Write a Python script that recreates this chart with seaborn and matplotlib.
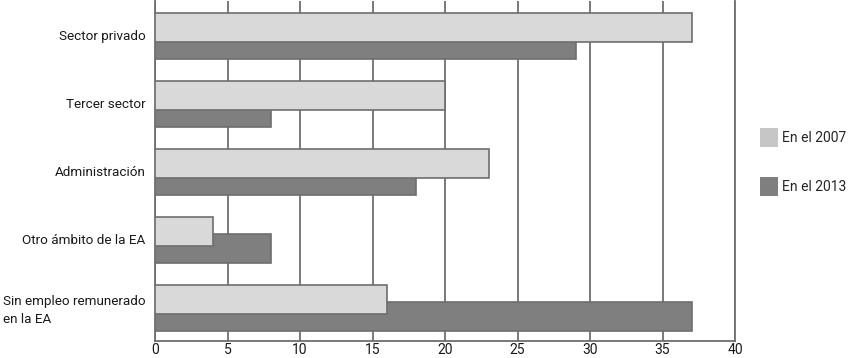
import numpy as np
import pandas as pd
import matplotlib
matplotlib.use("Agg")
import matplotlib.pyplot as plt
import seaborn as sns
from matplotlib.patches import Patch

# datos
categorias = ["Sector privado", "Tercer sector", "Administración",
              "Otro ámbito de la EA", "Sin empleo remunerado\nen la EA"]
valores_2007 = [37, 20, 23, 4, 16]
valores_2013 = [29, 8, 18, 8, 37]
series = ["En el 2007", "En el 2013"]
ticks_x = [0, 5, 10, 15, 20, 25, 30, 35, 40]

df = pd.DataFrame({
    "cat": categorias * 2,
    "valor": valores_2007 + valores_2013,
    "serie": [series[0]] * 5 + [series[1]] * 5,
})

sns.set_style("white")
plt.rcParams["font.family"] = ["Roboto", "DejaVu Sans"]

colores = {"En el 2007": "#d9d9d9", "En el 2013": "#7f7f7f"}
gris = "#6e6e6e"

fig = plt.figure(figsize=(8.5, 3.58), dpi=100)
ax = fig.add_axes([155 / 850, 1 - 341 / 358, 580 / 850, 340 / 358])

sns.barplot(data=df, y="cat", x="valor", hue="serie", palette=colores,
            orient="h", dodge=True, edgecolor=gris, linewidth=1.2,
            ax=ax, legend=False)

# barras superpuestas: la de 2007 encima y un poco más arriba
alto = 0.425
desplaz = {0: -0.112, 1: 0.142}
n = len(categorias)
for i, p in enumerate(ax.patches[:2 * n]):
    s = i // n
    k = i % n
    p.set_height(alto)
    p.set_y(k + desplaz[s] - alto / 2)
    p.set_zorder(4 if s == 0 else 3)

ax.set_xlim(0, 40)
ax.set_ylim(4.5, -0.5)
ax.set_xticks(ticks_x)
ax.xaxis.grid(True, color=gris, linewidth=1.3)
ax.set_axisbelow(True)
ax.set_xlabel("")
ax.set_ylabel("")
for lado in ["left", "bottom", "right"]:
    ax.spines[lado].set_color(gris)
    ax.spines[lado].set_linewidth(1.3)
ax.spines["top"].set_visible(False)
ax.tick_params(axis="both", length=0, labelsize=10, colors="#1a1a1a")
ax.tick_params(axis="y", pad=7, labelsize=9.7)
ax.tick_params(axis="x", pad=1.5)
for t in ax.get_yticklabels():
    t.set_multialignment("left")
    t.set_linespacing(1.45)

handles = [Patch(facecolor=c, edgecolor="none") for c in ["#c6c6c6", "#7f7f7f"]]
fig.legend(handles, series, loc="center left", bbox_to_anchor=(760 / 850, 1 - 162 / 358),
           frameon=False, fontsize=10, handlelength=1.3, handleheight=1.7,
           labelspacing=2.2, handletextpad=0.25, borderpad=0, borderaxespad=0)

fig.savefig("out.png", dpi=100)
